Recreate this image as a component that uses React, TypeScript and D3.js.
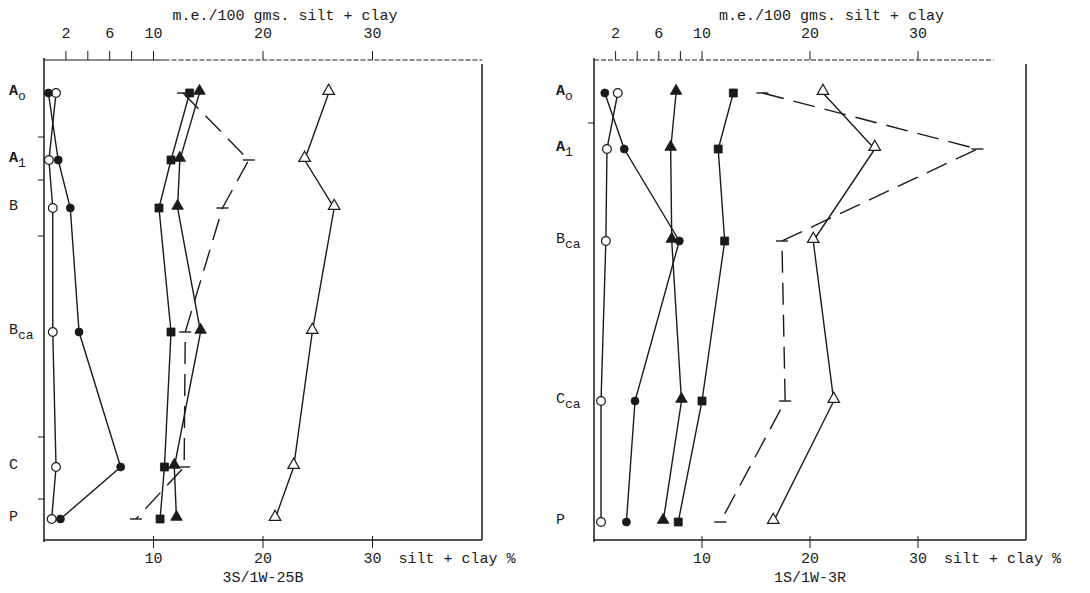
import React from 'react';
import * as d3 from 'd3';

// horizon labels and their depth positions (arbitrary depth units, 0 = top of profile)
const labelsLeft = ['A', 'A', 'B', 'B', 'C', 'P'];
const subsLeft = ['o', '1', '', 'ca', '', ''];
const depthsLeft = [3.3, 10, 14.8, 27.2, 40.7, 45.9];
const boundsLeft = [7.7, 12, 17.6, 37.7, 43.9];

const labelsRight = ['A', 'A', 'B', 'C', 'P'];
const subsRight = ['o', '1', 'ca', 'ca', ''];
const depthsRight = [3.3, 8.9, 18.1, 34.1, 46.2];
const boundsRight = [6.3];

// values per horizon
const openCircleLeft = [1.1, 0.45, 0.8, 0.8, 1.1, 0.7];
const filledCircleLeft = [0.4, 1.3, 2.4, 3.2, 7.0, 1.5];
const squareLeft = [13.3, 11.6, 10.5, 11.6, 11.0, 10.6];
const triangleLeft = [14.2, 12.4, 12.2, 14.3, 11.9, 12.1];
const dashedLeft = [12.7, 18.7, 16.3, 12.9, 12.8, 8.4];
const openTriangleLeft = [26.0, 23.8, 26.5, 24.5, 22.8, 21.1];

const openCircleRight = [2.2, 1.2, 1.1, 0.65, 0.65];
const filledCircleRight = [1.0, 2.8, 7.9, 3.8, 3.0];
const triangleRight = [7.6, 7.1, 7.2, 8.1, 6.4];
const squareRight = [12.9, 11.5, 12.1, 10.0, 7.8];
const dashedRight = [15.6, 35.5, 17.4, 17.7, 11.7];
const openTriangleRight = [21.2, 26.0, 20.3, 22.2, 16.6];

const bottomTicks = [10, 20, 30];
const topTicks = [2, 4, 6, 8, 10, 20, 30];
const topTickLabels = [2, 6, 10, 20, 30];

const FONT = '"Liberation Mono", "Courier New", monospace';
const INK = '#1a1a1a';

type Series = { values: number[]; marker: string; dashed?: boolean };

function Marker({ cx, cy, kind }: { cx: number; cy: number; kind: string }) {
    if (kind === 'tick') {
        return <line x1={cx - 6} x2={cx + 6} y1={cy} y2={cy} stroke={INK} strokeWidth={1.4} />;
    }
    const k = kind.toLowerCase();
    const symbolType = k.includes('circle') ? d3.symbolCircle
        : k.includes('square') ? d3.symbolSquare : d3.symbolTriangle;
    const size = kind === 'filledCircle' ? 50 : kind === 'openCircle' ? 60 : kind === 'square' ? 64 : 58;
    const path = d3.symbol().type(symbolType).size(size)() || '';
    const open = kind.startsWith('open');
    // triangles sit with their base on the point
    const dy = k.includes('triangle') ? -2 : 0;
    return (
        <path d={path} transform={`translate(${cx},${cy + dy})`}
            fill={open ? '#fff' : INK} stroke={INK} strokeWidth={open ? 1.2 : 0.8} />
    );
}

function Panel({ x0, x1, labelX, labels, subs, depths, bounds, series, topEnd, solidTo, site }: {
    x0: number; x1: number; labelX: number; labels: string[]; subs: string[];
    depths: number[]; bounds: number[]; series: Series[]; topEnd: number; solidTo: number; site: string;
}) {
    const x = d3.scaleLinear().domain([0, 40]).range([x0, x1]);
    const y = d3.scaleLinear().domain([0, 48]).range([60, 540]);

    const line = d3.line<number>()
        .x(v => x(v))
        .y((v, i) => y(depths[i]));

    return (
        <g fontFamily={FONT} fill={INK}>
            {/* title */}
            <text x={x(22)} y={20} fontSize={15} textAnchor="middle">m.e./100 gms. silt + clay</text>

            {/* top axis: solid start, then dotted like the typewritten original */}
            {solidTo > 0 && <line x1={x0} x2={x(solidTo)} y1={60} y2={60} stroke={INK} strokeWidth={1.2} />}
            <line x1={x(solidTo)} x2={x(topEnd)} y1={60} y2={60} stroke={INK} strokeWidth={1} strokeDasharray="5 2" />
            {topTicks.map(t => (
                <line key={t} x1={x(t)} x2={x(t)} y1={51} y2={60} stroke={INK} strokeWidth={1} />
            ))}
            {topTickLabels.map(t => (
                <text key={t} x={x(t)} y={38} fontSize={15} textAnchor="middle">{t}</text>
            ))}

            {/* frame */}
            <line x1={x0} x2={x0} y1={58} y2={542} stroke={INK} strokeWidth={1.5} />
            <line x1={x1} x2={x1} y1={64} y2={540} stroke={INK} strokeWidth={1.5} />
            <line x1={x0} x2={x1} y1={540} y2={540} stroke={INK} strokeWidth={1.3} />
            {bounds.map(b => (
                <line key={b} x1={x0 - 6} x2={x0} y1={y(b)} y2={y(b)} stroke={INK} strokeWidth={1} />
            ))}

            {/* bottom axis */}
            {bottomTicks.map(t => (
                <g key={t}>
                    <line x1={x(t)} x2={x(t)} y1={536} y2={548} stroke={INK} strokeWidth={1} />
                    <text x={x(t)} y={563} fontSize={15} textAnchor="middle">{t}</text>
                </g>
            ))}
            <text x={x(30) + 26} y={563} fontSize={15}>silt + clay %</text>
            <text x={x(20)} y={582} fontSize={15} textAnchor="middle">{site}</text>

            {/* horizon labels */}
            {labels.map((l, i) => (
                <text key={i} x={labelX} y={y(depths[i]) + 2} fontSize={15}
                    fontWeight={subs[i] === 'o' || subs[i] === '1' ? 'bold' : 'normal'}>
                    {l}
                    {subs[i] && <tspan dy={5} fontSize={13} fontWeight="normal">{subs[i]}</tspan>}
                </text>
            ))}

            {/* profiles */}
            {series.map((s, si) => (
                <g key={si}>
                    <path d={line(s.values) || ''} fill="none" stroke={INK} strokeWidth={1.4}
                        strokeDasharray={s.dashed ? '22 10' : undefined} />
                    {s.values.map((v, i) => (
                        <Marker key={i} cx={x(v)} cy={y(depths[i])} kind={s.marker} />
                    ))}
                </g>
            ))}
        </g>
    );
}

export default function App() {
    const seriesLeft: Series[] = [
        { values: openCircleLeft, marker: 'openCircle' },
        { values: filledCircleLeft, marker: 'filledCircle' },
        { values: squareLeft, marker: 'square' },
        { values: triangleLeft, marker: 'triangle' },
        { values: dashedLeft, marker: 'tick', dashed: true },
        { values: openTriangleLeft, marker: 'openTriangle' },
    ];
    const seriesRight: Series[] = [
        { values: openCircleRight, marker: 'openCircle' },
        { values: filledCircleRight, marker: 'filledCircle' },
        { values: triangleRight, marker: 'triangle' },
        { values: squareRight, marker: 'square' },
        { values: dashedRight, marker: 'tick', dashed: true },
        { values: openTriangleRight, marker: 'openTriangle' },
    ];

    return (
        <svg width={1090} height={593} style={{ position: 'absolute', left: 0, top: 0, background: '#fff' }}>
            <rect width={1090} height={593} fill="#fff" />
            <Panel x0={44} x1={482} labelX={9} labels={labelsLeft} subs={subsLeft}
                depths={depthsLeft} bounds={boundsLeft} series={seriesLeft} topEnd={40} solidTo={11}
                site="3S/1W-25B" />
            <Panel x0={594} x1={1026} labelX={556} labels={labelsRight} subs={subsRight}
                depths={depthsRight} bounds={boundsRight} series={seriesRight} topEnd={37} solidTo={0}
                site="1S/1W-3R" />
        </svg>
    );
}
